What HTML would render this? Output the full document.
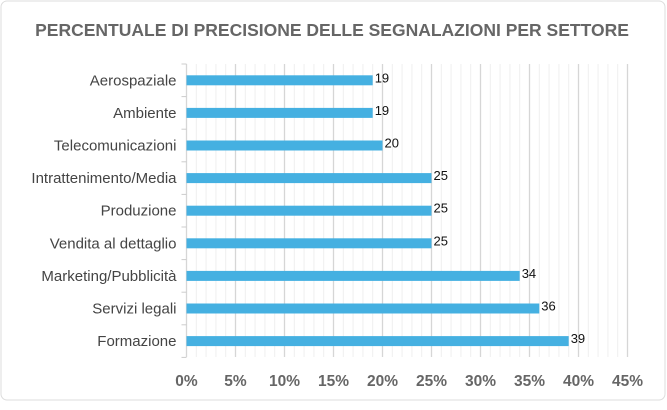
<!DOCTYPE html>
<html><head><meta charset="utf-8"><style>
body{margin:0;background:#fff;font-family:"Liberation Sans",sans-serif}
</style></head><body>
<svg id="c" width="667" height="405" xmlns="http://www.w3.org/2000/svg">
<rect x="1" y="1" width="664" height="399" rx="6" fill="#fff" stroke="#ddd"/>
<text x="332" y="36" text-anchor="middle" font-size="17.5" font-weight="bold" fill="#666">PERCENTUALE DI PRECISIONE DELLE SEGNALAZIONI PER SETTORE</text>
<g id="grid"></g><g id="bars"></g><g id="labels"></g>
</svg>
<script>
const categories=["Aerospaziale","Ambiente","Telecomunicazioni","Intrattenimento/Media","Produzione","Vendita al dettaglio","Marketing/Pubblicità","Servizi legali","Formazione"];
const values=[19,19,20,25,25,25,34,36,39];
const tickLabels=["0%","5%","10%","15%","20%","25%","30%","35%","40%","45%"];
const NS="http://www.w3.org/2000/svg";
const x0=186.5,sc=9.8,plotTop=64,rowH=32.6,plotBottom=357;
const xs=v=>x0+v*sc;
const ys=i=>plotTop+rowH*(i+0.5);
function mk(tag,attrs,parent){const e=document.createElementNS(NS,tag);for(const k in attrs)e.setAttribute(k,attrs[k]);document.getElementById(parent).appendChild(e);return e;}
for(let p=0;p<=45;p++){
  const l=mk('line',{x1:xs(p),x2:xs(p),y1:plotTop,y2:plotBottom,stroke:p%5==0?'#d6d6d6':'#efefef','stroke-width':p%5==0?1.3:1},'grid');
  
  
}
tickLabels.forEach((t,i)=>{
  const e=mk('text',{x:xs(i*5),y:386,'text-anchor':'middle','font-size':15.5,'font-weight':'bold',fill:'#666'},'labels');
  e.textContent=t;
  
  
});
for(let i=0;i<=categories.length;i++){
  const t=mk('line',{x1:x0-5,x2:x0,y1:plotTop+rowH*i,y2:plotTop+rowH*i,stroke:'#ccc'},'grid');
  
  
}
categories.forEach((c,i)=>{
  const y=ys(i);
  const b=mk('rect',{x:x0,y:y-5,width:xs(values[i])-x0,height:10,fill:'#45b0e1'},'bars');
  
  
  const l=mk('text',{x:x0-10,y:y+5,'text-anchor':'end','font-size':15,fill:'#444'},'labels');
  l.textContent=c;
  
  
  const v=mk('text',{x:xs(values[i])+2,y:y+2,'font-size':13,fill:'#111'},'labels');
  v.textContent=values[i];
  
  
});
</script>
</body></html>
